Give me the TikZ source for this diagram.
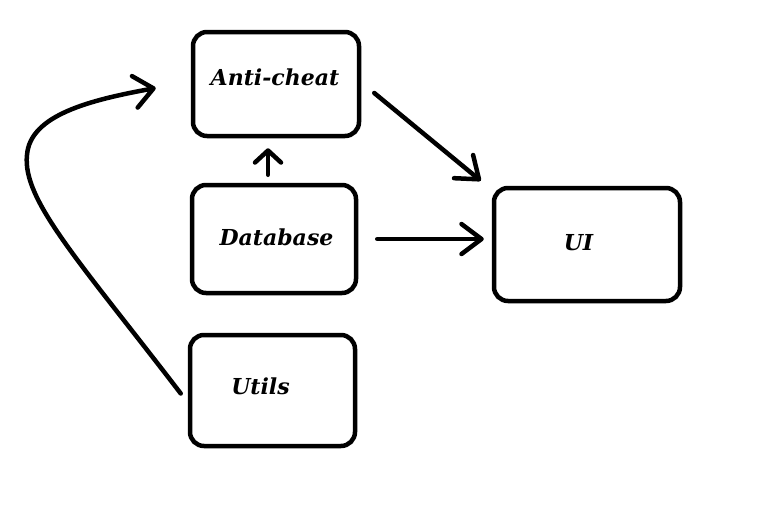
\documentclass[tikz,border=0pt]{standalone}
\usepackage{fontspec}
\newfontfamily\boxfont{DejaVu Serif}
\usetikzlibrary{arrows.meta,calc}
\begin{document}
\begin{tikzpicture}[x=1pt,y=-1pt,
  modbox/.style={draw=black,line width=4.5pt,rounded corners=14pt,inner sep=0pt,fill=white},
  modtext/.style={font=\boxfont\bfseries\itshape\fontsize{22}{26}\selectfont,anchor=base,inner sep=0pt},
  conn/.style={line width=4.5pt,line cap=round,-{Straight Barb[length=20pt,width=30pt,round]}},
  connsmall/.style={line width=4.5pt,line cap=round,-{Straight Barb[length=12pt,width=26pt,round]}},
  conncurve/.style={line width=4.5pt,line cap=round,-{Straight Barb[length=19pt,width=32pt,round]}}]
\useasboundingbox[fill=white] (0,0) rectangle (766,531);
% boxes
\node[modbox,minimum width=166pt,minimum height=104pt] (ac) at (276,84) {};
\node[modbox,minimum width=164pt,minimum height=108pt] (db) at (274,239) {};
\node[modbox,minimum width=165pt,minimum height=111pt] (ut) at (272.5,390.5) {};
\node[modbox,minimum width=186pt,minimum height=113pt] (ui) at (587,244.5) {};
% labels
\node[modtext] (acl) at (275,85) {Anti-cheat};
\node[modtext] (dbl) at (276.5,245) {Database};
\node[modtext] (utl) at (260.5,394) {Utils};
\node[modtext] (uil) at (578.5,250) {UI};
% connector end points
\coordinate (dbup) at ($(db.north)+(-6,-8)$);
\coordinate (acdown) at ($(ac.south)+(-8,10)$);
\coordinate (acout) at ($(ac.east)+(13,9)$);
\coordinate (uiin) at ($(ui.north west)+(-11,-5)$);
\coordinate (dbout) at ($(db.east)+(19,0)$);
\coordinate (uiwest) at ($(ui.west)+(-8,0)$);
\coordinate (utout) at ($(ut.west)+(-7,3)$);
\coordinate (acin) at ($(ac.west)+(-35,4)$);
% connectors
\draw[connsmall] (dbup) -- (acdown);
\draw[conn] (acout) -- (uiin);
\draw[conn] (dbout) -- (dbout -| uiwest);
\draw[conncurve] (utout) .. controls (80,262) and (22,200) .. (27,155)
  .. controls (30,115) and (90,100) .. (acin);
\end{tikzpicture}
\end{document}
